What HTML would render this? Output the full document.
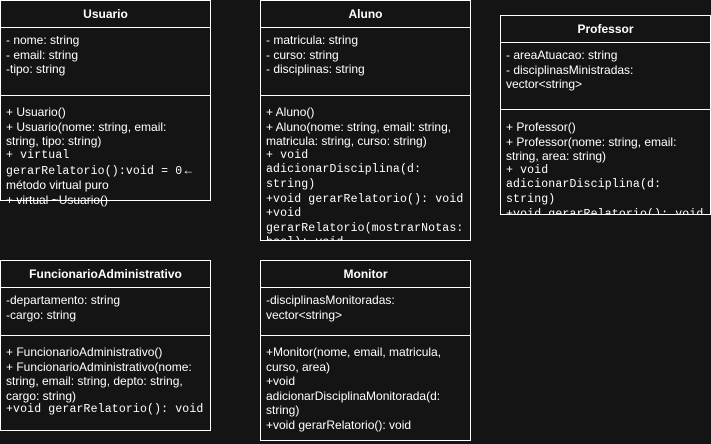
<!DOCTYPE html>
<html><head><style>
body{margin:0;width:711px;height:444px;background:#141414;position:relative;overflow:hidden;font-family:"Liberation Sans",sans-serif;font-size:12px;color:#fff}
.b{position:absolute;border:1px solid #fff;box-sizing:border-box;background:#141414}
.h{position:absolute;left:0;right:0;top:0;height:26px;line-height:26px;text-align:center;font-weight:bold;font-size:12px;border-bottom:1px solid #fff}
.s{position:absolute;left:0;right:0;border-top:1px solid #fff}
.t{position:absolute;left:5px;right:3px;line-height:14.6px;white-space:normal}
.t div{height:14.6px;white-space:nowrap}
.m{font-family:"Liberation Mono","DejaVu Sans Mono",monospace;font-size:11.5px;letter-spacing:.15px}
</style></head><body>

<div class="b" style="left:0;top:0;width:211px;height:201px">
<div class="h">Usuario</div>
<div class="t" style="top:32px"><div>- nome: string</div><div>- email: string</div><div>-tipo: string</div></div>
<div class="s" style="top:94px"></div>
<div class="t" style="top:104px"><div>+ Usuario()</div><div>+ Usuario(nome: string, email:</div><div>string, tipo: string)</div><div class="m">+ virtual</div><div><span class="m">gerarRelatorio():void = 0</span>←</div><div>método virtual puro</div><div>+ virtual ~Usuario()</div></div>
</div>

<div class="b" style="left:260px;top:0;width:211px;height:241px;overflow:hidden">
<div class="h">Aluno</div>
<div class="t" style="top:32px"><div>- matricula: string</div><div>- curso: string</div><div>- disciplinas: string</div></div>
<div class="s" style="top:94px"></div>
<div class="t" style="top:104px"><div>+ Aluno()</div><div>+ Aluno(nome: string, email: string,</div><div>matricula: string, curso: string)</div><div class="m">+ void</div><div class="m">adicionarDisciplina(d:</div><div class="m">string)</div><div class="m">+void gerarRelatorio(): void</div><div class="m">+void</div><div class="m">gerarRelatorio(mostrarNotas:</div><div class="m">bool): void</div></div>
</div>

<div class="b" style="left:500px;top:15px;width:211px;height:200px;overflow:hidden">
<div class="h">Professor</div>
<div class="t" style="top:32px"><div>- areaAtuacao: string</div><div>- disciplinasMinistradas:</div><div>vector&lt;string&gt;</div></div>
<div class="s" style="top:93px"></div>
<div class="t" style="top:104px"><div>+ Professor()</div><div>+ Professor(nome: string, email:</div><div>string, area: string)</div><div class="m">+ void</div><div class="m">adicionarDisciplina(d:</div><div class="m">string)</div><div class="m">+void gerarRelatorio(): void</div></div>
</div>

<div class="b" style="left:0;top:260px;width:211px;height:171px">
<div class="h">FuncionarioAdministrativo</div>
<div class="t" style="top:32px"><div>-departamento: string</div><div>-cargo: string</div></div>
<div class="s" style="top:74px"></div>
<div class="t" style="top:84px"><div>+ FuncionarioAdministrativo()</div><div>+ FuncionarioAdministrativo(nome:</div><div>string, email: string, depto: string,</div><div>cargo: string)</div><div class="m">+void gerarRelatorio(): void</div></div>
</div>

<div class="b" style="left:260px;top:260px;width:211px;height:181px">
<div class="h">Monitor</div>
<div class="t" style="top:32px"><div>-disciplinasMonitoradas:</div><div>vector&lt;string&gt;</div></div>
<div class="s" style="top:74px"></div>
<div class="t" style="top:84px"><div>+Monitor(nome, email, matricula,</div><div>curso, area)</div><div>+void</div><div>adicionarDisciplinaMonitorada(d:</div><div>string)</div><div>+void gerarRelatorio(): void</div></div>
</div>

</body></html>
